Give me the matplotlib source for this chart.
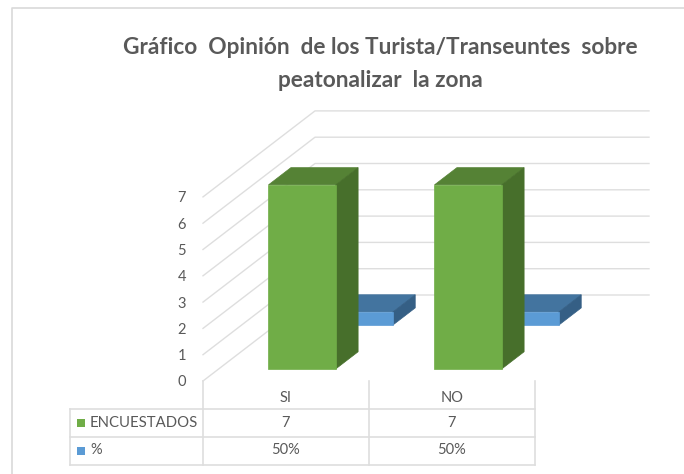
import matplotlib as mpl
mpl.use("Agg")
import matplotlib.pyplot as plt
from matplotlib.patches import Polygon, Rectangle

mpl.rcParams["font.family"] = ["Lato", "DejaVu Sans"]

categories = ["SI", "NO"]
encuestados = [7, 7]
porcentaje = [0.5, 0.5]
porcentaje_labels = ["50%", "50%"]
y_ticks = [0, 1, 2, 3, 4, 5, 6, 7]
title_lines = ["Gráfico  Opinión  de los Turista/Transeuntes  sobre", "peatonalizar  la zona"]

# pixel layout of the fake 3d box
X0 = 203.0
Y0 = 381.0
CAT_W = 166.0
UNIT = 26.3
DX = 112.0
DY = 86.0
BACK_RIGHT = 649
GRID = "#dedede"
TXT = "#595959"


def proj(cat, val, depth):
    return X0 + cat * CAT_W + depth * DX, Y0 - val * UNIT - depth * DY


def bar3d(ax, cat, val, d0, d1, front, top, side):
    a, b = cat + 0.30, cat + 0.705
    ax.add_patch(Polygon([proj(a, val, d0), proj(b, val, d0), proj(b, val, d1), proj(a, val, d1)], fc=top, ec=top, lw=0.5, zorder=3))
    ax.add_patch(Polygon([proj(b, 0, d0), proj(b, val, d0), proj(b, val, d1), proj(b, 0, d1)], fc=side, ec=side, lw=0.5, zorder=3))
    ax.add_patch(Polygon([proj(a, 0, d0), proj(b, 0, d0), proj(b, val, d0), proj(a, val, d0)], fc=front, ec=front, lw=0.5, zorder=3))


fig = plt.figure(figsize=(6.84, 4.74), dpi=100)
ax = fig.add_axes([0, 0, 1, 1])
ax.set_xlim(0, 684)
ax.set_ylim(474, 0)
ax.axis("off")

# chart border, only left and top show in the crop
ax.plot([12, 12, 684], [474, 8, 8], color="#d9d9d9", lw=1.2)

for i, line in enumerate(title_lines):
    ax.text(380, 47 + i * 33, line, ha="center", va="center", fontsize=16.3, fontweight="bold", color=TXT)

# gridlines
for v in y_ticks:
    fx, fy = proj(0, v, 0)
    bx, by = proj(0, v, 1)
    ax.plot([fx, bx, BACK_RIGHT], [fy, by, by], color=GRID, lw=1)
    ax.text(fx - 17, fy + 1.5, str(v), ha="right", va="center", fontsize=10.5, color=TXT)

# bars, back series first
for i in range(len(categories)):
    bar3d(ax, i, porcentaje[i], 0.65, 0.85, "#5b9bd5", "#43749f", "#355f85")
    bar3d(ax, i, encuestados[i], 0.14, 0.34, "#70ad47", "#558235", "#476f2b")

# data table
T_LEFT = 70
rows_y = [409, 437, 465]
right = X0 + CAT_W * len(categories)
for y in rows_y:
    ax.plot([T_LEFT, right], [y, y], color=GRID, lw=1.2)
ax.plot([T_LEFT, T_LEFT], [rows_y[0], rows_y[2]], color=GRID, lw=1.2)
for i in range(len(categories) + 1):
    x = X0 + i * CAT_W
    ax.plot([x, x], [Y0, rows_y[2]], color=GRID, lw=1.2)
for i, c in enumerate(categories):
    cx = X0 + (i + 0.5) * CAT_W
    ax.text(cx, 398, c, ha="center", va="center", fontsize=10.5, color=TXT)
    ax.text(cx, 423, str(encuestados[i]), ha="center", va="center", fontsize=10.5, color=TXT)
    ax.text(cx, 450, porcentaje_labels[i], ha="center", va="center", fontsize=10.5, color=TXT)

ax.add_patch(Rectangle((77, 419), 8, 8, fc="#70ad47", ec="none"))
ax.add_patch(Rectangle((77, 447), 8, 8, fc="#5b9bd5", ec="none"))
ax.text(90, 423, "ENCUESTADOS", ha="left", va="center", fontsize=10.7, color=TXT)
ax.text(90, 450, "%", ha="left", va="center", fontsize=10.5, color=TXT)

fig.savefig("out.png", dpi=100)
